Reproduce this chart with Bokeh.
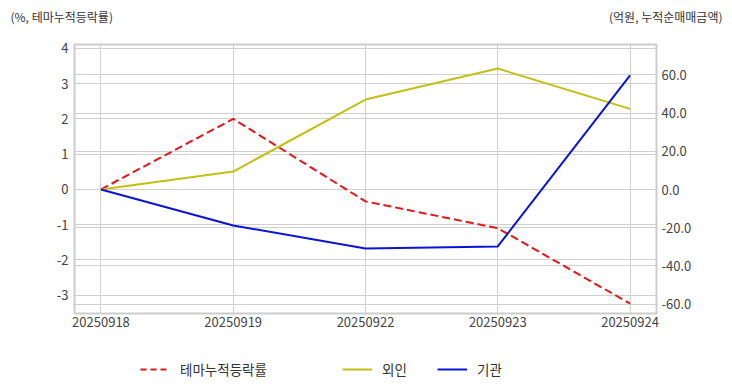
from bokeh.plotting import figure
from bokeh.layouts import column
from bokeh.models import (Range1d, LinearAxis, FixedTicker, Legend, LegendItem, Label,
                          NumeralTickFormatter, Grid)
from bokeh.embed import file_html
from bokeh.resources import INLINE

dates = ["20250918", "20250919", "20250922", "20250923", "20250924"]
theme_pct = [0.0, 2.0, -0.34, -1.1, -3.24]
foreign = [0.0, 9.4, 47.1, 63.3, 42.2]
institution = [0.0, -18.8, -30.9, -29.8, 59.7]
left_ticks = [-3, -2, -1, 0, 1, 2, 3, 4]
right_ticks = [-60, -40, -20, 0, 20, 40, 60]
series_names = ["테마누적등락률", "외인", "기관"]
left_title = "(%, 테마누적등락률)"
right_title = "(억원, 누적순매매금액)"

FONT = "Noto Sans CJK KR"
W = 724
RED, YEL, BLU = "#e8141b", "#c3bf13", "#0a14d8"
xs = list(range(len(dates)))


def blank(h):
    f = figure(width=W, height=h, output_backend="svg", toolbar_location=None,
               x_range=Range1d(0, W), y_range=Range1d(0, h),
               min_border=0, min_border_left=0, min_border_right=0,
               min_border_top=0, min_border_bottom=0, frame_align=False)
    f.axis.visible = False
    f.grid.visible = False
    f.outline_line_color = None
    return f


# --- top: axis titles
top = blank(30)
top.add_layout(Label(x=10, y=14, text=left_title, text_font=FONT, text_font_size="12px",
                     text_color="#333333", text_baseline="middle", text_align="left"))
top.add_layout(Label(x=722, y=14, text=right_title, text_font=FONT, text_font_size="12px",
                     text_color="#333333", text_baseline="middle", text_align="right"))

# --- main chart
p = figure(width=W, height=310, output_backend="svg", toolbar_location=None,
           x_range=Range1d(-0.2, 4.2), y_range=Range1d(-3.52, 4.11),
           min_border_left=74, min_border_right=68, min_border_top=14, min_border_bottom=27,
           frame_align=False)
p.extra_y_ranges = {"right": Range1d(-64.9, 75.9)}
p.outline_line_color = "#cccccc"
p.outline_line_width = 2

p.xaxis.ticker = FixedTicker(ticks=xs)
p.xaxis.major_label_overrides = {i: d for i, d in enumerate(dates)}
p.yaxis.ticker = FixedTicker(ticks=left_ticks)
p.yaxis.formatter = NumeralTickFormatter(format="0")

ra = LinearAxis(y_range_name="right", ticker=FixedTicker(ticks=right_ticks),
                formatter=NumeralTickFormatter(format="0.0"))
p.add_layout(ra, "right")

for ax, so in [(p.xaxis[0], 3), (p.yaxis[0], 6), (ra, 5)]:
    ax.axis_line_color = None
    ax.major_tick_line_color = None
    ax.minor_tick_line_color = None
    ax.major_tick_out = 0
    ax.major_tick_in = 0
    ax.minor_tick_out = 0
    ax.major_label_text_font = FONT
    ax.major_label_text_font_size = "13px"
    ax.major_label_text_color = "#444444"
    ax.major_label_standoff = so

p.xgrid.grid_line_color = "#d0d0d0"
p.ygrid.grid_line_color = "#d0d0d0"
p.ygrid.ticker = FixedTicker(ticks=left_ticks)
p.add_layout(Grid(dimension=1, ticker=FixedTicker(ticks=right_ticks), y_range_name="right",
                  grid_line_color="#d0d0d0"))

p.line(xs, theme_pct, line_color=RED, line_width=2, line_dash="8 4")
p.line(xs, foreign, line_color=YEL, line_width=2, y_range_name="right")
p.line(xs, institution, line_color=BLU, line_width=2, y_range_name="right")

# --- bottom: legend (swatch renderers hidden; legend still draws their styles)
bot = blank(44)
swatches = [
    bot.line(xs, theme_pct, line_color=RED, line_width=2, line_dash="6 4", visible=False),
    bot.line(xs, foreign, line_color=YEL, line_width=2, visible=False),
    bot.line(xs, institution, line_color=BLU, line_width=2, visible=False),
]
for name, r, x in zip(series_names, swatches, [140, 342, 437]):
    lg = Legend(items=[LegendItem(label=name, renderers=[r])], location=(x, 5),
                orientation="horizontal", padding=0, margin=0, border_line_color=None,
                background_fill_alpha=0, glyph_width=30, glyph_height=20, label_standoff=10,
                label_height=20, inactive_fill_alpha=0,
                label_text_font=FONT, label_text_font_size="13.5px", label_text_color="#333333")
    bot.add_layout(lg, "center")

layout = column(top, p, bot, spacing=0)
open("out.html", "w").write(file_html(layout, INLINE))
